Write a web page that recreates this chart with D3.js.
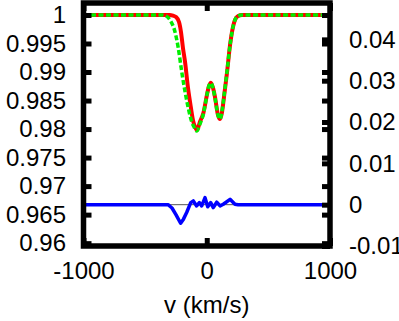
<!DOCTYPE html>
<html>
<head>
<meta charset="utf-8">
<script src="https://cdn.jsdelivr.net/npm/d3@7"></script>
<style>
  body { margin: 0; background: #fff; }
  svg { display: block; }
  text { font-family: "Liberation Sans", Arial, sans-serif; }
</style>
</head>
<body>
<svg width="399" height="321"></svg>
<script>
// observed profile (red)
const obsV = [-1000, -300, -274, -250, -225, -209, -193, -176, -152, -128, -112, -95, -79, -55, -28, 4, 18, 34, 51, 67, 91, 108, 124, 140, 164, 189, 205, 229, 254, 286, 1000]
const obsF = [1, 1, 0.99988, 0.99965, 0.99877, 0.99702, 0.99421, 0.99175, 0.98719, 0.98368, 0.98158, 0.98035, 0.97982, 0.98129, 0.98275, 0.98626, 0.98754, 0.98813, 0.98719, 0.98561, 0.98246, 0.98175, 0.98298, 0.98561, 0.98982, 0.99474, 0.99702, 0.99912, 0.99982, 1, 1]

// model profile (green, dashed)
const modV = [-1000, -363, -330, -298, -258, -231, -203, -176, -150, -122, -103, -82, -55, -28, 4, 18, 34, 51, 67, 91, 108, 124, 140, 164, 189, 205, 229, 254, 286, 1000]
const modF = [1, 1, 0.99982, 0.99912, 0.99707, 0.99421, 0.99005, 0.98654, 0.98368, 0.98128, 0.98035, 0.97965, 0.98088, 0.98260, 0.98626, 0.98760, 0.98807, 0.98719, 0.98544, 0.98246, 0.98175, 0.98316, 0.98579, 0.99, 0.99474, 0.99702, 0.99912, 0.99982, 1, 1]

// residual (blue, right axis)
const resV = [-1000, -314, -282, -250, -212, -189, -163, -130, -109, -82, -60, -41, -14, 8, 32, 53, 81, 108, 134, 189, 229, 254, 1000]
const resR = [0, 0, -0.0008, -0.0024, -0.0045, -0.0035, -0.0019, 0.0005, 0.0009, -0.0003, 0.0005, -0.0003, 0.0017, -0.0005, 0.0005, -0.0007, 0.0006, -0.0003, 0.0001, 0.0013, 0.0001, 0, 0]

const xTicks = [-1000, 0, 1000]
const y1Ticks = [0.96, 0.965, 0.97, 0.975, 0.98, 0.985, 0.99, 0.995, 1]
const y2Ticks = [-0.01, 0, 0.01, 0.02, 0.03, 0.04]

const pLeft = 83.5, pRight = 330, pTop = 3, pBottom = 246
const tick = 8
const plain = d => String(d)

const svg = d3.select('svg')

const x = d3.scaleLinear().domain([-1000, 1000]).range([pLeft, pRight])
const y1 = d3.scaleLinear().domain([0.9595, 1.0021]).range([pBottom, pTop])
const y2 = d3.scaleLinear().domain([-0.01, 0.0488]).range([pBottom, pTop])

svg.append('defs').append('clipPath').attr('id', 'plot')
  .append('rect')
  .attr('x', pLeft).attr('y', pTop)
  .attr('width', pRight - pLeft).attr('height', pBottom - pTop)

const g = svg.append('g').attr('clip-path', 'url(#plot)')

// zero line of the residual
g.append('line')
  .attr('x1', pLeft).attr('x2', pRight)
  .attr('y1', y2(0)).attr('y2', y2(0))
  .attr('stroke', '#555')
  .attr('stroke-width', 1)

const lineObs = d3.line().x((d, i) => x(obsV[i])).y(d => y1(d)).curve(d3.curveMonotoneX)
const lineMod = d3.line().x((d, i) => x(modV[i])).y(d => y1(d)).curve(d3.curveMonotoneX)
const lineRes = d3.line().x((d, i) => x(resV[i])).y(d => y2(d))

g.append('path')
  .attr('d', lineObs(obsF))
  .attr('fill', 'none')
  .attr('stroke', '#ff0000')
  .attr('stroke-width', 4)

g.append('path')
  .attr('d', lineMod(modF))
  .attr('fill', 'none')
  .attr('stroke', '#00ee00')
  .attr('stroke-width', 3.5)
  .attr('stroke-dasharray', '5,2.5')

g.append('path')
  .attr('d', lineRes(resR))
  .attr('fill', 'none')
  .attr('stroke', '#0000ff')
  .attr('stroke-width', 3.5)
  .attr('stroke-linejoin', 'round')

// frame
svg.append('rect')
  .attr('x', pLeft).attr('y', pTop)
  .attr('width', pRight - pLeft).attr('height', pBottom - pTop)
  .attr('fill', 'none')
  .attr('stroke', '#000')
  .attr('stroke-width', 5.5)

function styleAxis(sel) {
  sel.select('.domain').remove()
  sel.selectAll('.tick line').attr('stroke', '#000').attr('stroke-width', 5)
  sel.selectAll('.tick text').attr('fill', '#000').style('font-size', '24px')
}

svg.append('g')
  .attr('transform', `translate(${pLeft},0)`)
  .call(d3.axisLeft(y1).tickValues(y1Ticks).tickSize(-tick).tickPadding(17.5).tickFormat(plain))
  .call(styleAxis)

svg.append('g')
  .attr('transform', `translate(${pRight},0)`)
  .call(d3.axisRight(y1).tickValues(y1Ticks).tickSize(-tick).tickFormat(''))
  .call(styleAxis)

svg.append('g')
  .attr('transform', `translate(${pRight},0)`)
  .call(d3.axisRight(y2).tickValues(y2Ticks).tickSize(-tick).tickPadding(19).tickFormat(plain))
  .call(styleAxis)

svg.append('g')
  .attr('transform', `translate(0,${pBottom})`)
  .call(d3.axisBottom(x).tickValues(xTicks).tickSize(-tick).tickPadding(16).tickFormat(plain))
  .call(styleAxis)

svg.append('g')
  .attr('transform', `translate(0,${pTop})`)
  .call(d3.axisTop(x).tickValues(xTicks).tickSize(-tick).tickFormat(''))
  .call(styleAxis)

svg.append('text')
  .attr('x', (pLeft + pRight) / 2)
  .attr('y', 313)
  .attr('text-anchor', 'middle')
  .style('font-size', '24px')
  .text('v (km/s)')
</script>
</body>
</html>
